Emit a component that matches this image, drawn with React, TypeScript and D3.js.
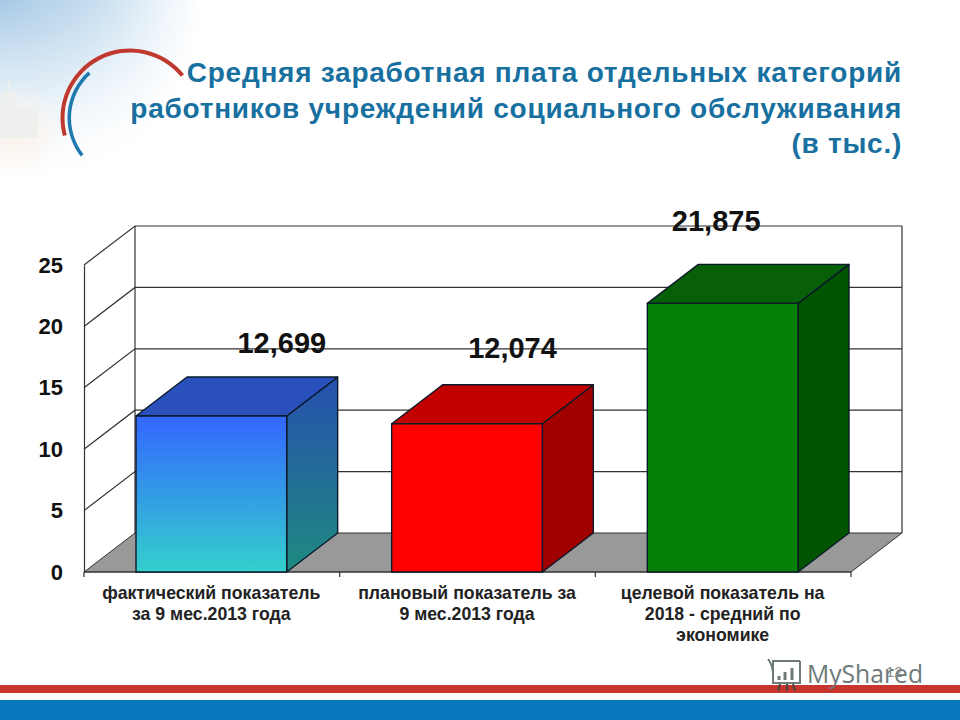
import { useEffect, useRef } from "react";
import * as d3 from "d3";

const categories = ["fact", "plan", "target"];
const values = [12.699, 12.074, 21.875];
const valueLabels = ["12,699", "12,074", "21,875"];
const ticks = [0, 5, 10, 15, 20, 25];
const categoryLines = [
  ["фактический показатель", "за 9 мес.2013 года"],
  ["плановый показатель за", "9 мес.2013 года"],
  ["целевой показатель на", "2018 - средний по", "экономике"],
];
const titleLines = [
  "Средняя заработная плата отдельных категорий",
  "работников учреждений социального обслуживания",
  "(в тыс.)",
];
const frontColors = ["url(#front0)", "#ff0000", "#068006"];
const sideColors = ["url(#side0)", "#a00000", "#005400"];
const topColors = ["#2a50bb", "#c20000", "#075f07"];

const FONT = "'Liberation Sans', Arial, sans-serif";
const dx = 51;
const dy = -39;

export default function App() {
  const svgRef = useRef<SVGSVGElement>(null);

  useEffect(() => {
    if (!svgRef.current) return;
    const svg = d3.select(svgRef.current);
    svg.selectAll("*").remove();

    const y = d3.scaleLinear().domain([0, 25]).range([572, 265]);
    const x = d3.scaleBand<string>().domain(categories).range([84, 851]).paddingInner(0).paddingOuter(0);
    const inset = 52;
    // the labels sit off-centre in the original, not in a regular pattern
    const labelShift = [70, 45, -7];
    const labelBase = [353, 358, 231];

    const defs = svg.append("defs");
    const grad = (id: string, stops: [string, string]) => {
      const g = defs.append("linearGradient").attr("id", id)
        .attr("x1", 0).attr("y1", 0).attr("x2", 0).attr("y2", 1);
      g.append("stop").attr("offset", 0).attr("stop-color", stops[0]);
      g.append("stop").attr("offset", 1).attr("stop-color", stops[1]);
    };
    grad("front0", ["#3366ff", "#33d0cc"]);
    grad("side0", ["#2650ae", "#1f8a80"]);

    const blue = defs.append("radialGradient").attr("id", "bgBlue")
      .attr("gradientUnits", "userSpaceOnUse").attr("cx", 0).attr("cy", 0).attr("r", 200);
    blue.append("stop").attr("offset", 0).attr("stop-color", "#a6c9e5");
    blue.append("stop").attr("offset", 0.5).attr("stop-color", "#c9dff0");
    blue.append("stop").attr("offset", 0.85).attr("stop-color", "#f0f6fb");
    blue.append("stop").attr("offset", 1).attr("stop-color", "#ffffff");
    const peach = defs.append("radialGradient").attr("id", "bgPeach")
      .attr("gradientUnits", "userSpaceOnUse").attr("cx", 15).attr("cy", 130).attr("r", 48);
    peach.append("stop").attr("offset", 0).attr("stop-color", "#fbf1e8");
    peach.append("stop").attr("offset", 1).attr("stop-color", "#fbf1e8").attr("stop-opacity", 0);
    const fade = defs.append("linearGradient").attr("id", "bgFade")
      .attr("x1", 0).attr("y1", 0).attr("x2", 0).attr("y2", 1);
    fade.append("stop").attr("offset", 0).attr("stop-color", "#fff").attr("stop-opacity", 0);
    fade.append("stop").attr("offset", 1).attr("stop-color", "#fff");

    // page decoration
    svg.append("rect").attr("width", 960).attr("height", 720).attr("fill", "#fff");
    svg.append("rect").attr("width", 200).attr("height", 185).attr("fill", "url(#bgBlue)");
    svg.append("rect").attr("width", 200).attr("height", 185).attr("fill", "url(#bgFade)");
    svg.append("rect").attr("width", 70).attr("height", 185).attr("fill", "url(#bgPeach)");
    const church = svg.append("g").attr("fill", "#eef0ee");
    church.append("rect").attr("x", 0).attr("y", 108).attr("width", 38).attr("height", 30);
    church.append("rect").attr("x", 2).attr("y", 96).attr("width", 14).attr("height", 14);
    church.append("path").attr("d", "M2,96 Q9,84 16,96 Z");
    church.append("rect").attr("x", 8).attr("y", 80).attr("width", 1.5).attr("height", 7);

    const arc = d3.arc<{ r0: number; r1: number; a0: number; a1: number }>()
      .innerRadius((d) => d.r0).outerRadius((d) => d.r1)
      .startAngle((d) => (d.a0 * Math.PI) / 180).endAngle((d) => (d.a1 * Math.PI) / 180);
    const arcs = svg.append("g").attr("transform", "translate(130,118)");
    arcs.append("path").attr("fill", "#c0392f").attr("d", arc({ r0: 65.5, r1: 69.5, a0: -105, a1: 51 }));
    arcs.append("path").attr("fill", "#1f78ae").attr("d", arc({ r0: 59, r1: 62.5, a0: -128, a1: -42 }));

    svg.append("g").attr("font-family", FONT).attr("font-weight", "bold").attr("font-size", 28)
      .attr("fill", "#17709f").attr("text-anchor", "end")
      .selectAll("text").data(titleLines).join("text")
      .attr("x", 902).attr("y", (_, i) => 82 + i * 35.5).attr("letter-spacing", 0.75).text((d) => d);

    // floor and walls
    const [x0, x1] = x.range();
    svg.append("path")
      .attr("d", `M${x0},${y(0)}L${x0 + dx},${y(0) + dy}L${x1 + dx},${y(0) + dy}L${x1},${y(0)}Z`)
      .attr("fill", "#999").attr("stroke", "#333");

    const grid = svg.append("g").attr("stroke", "#333").attr("stroke-width", 1.2).attr("fill", "none");
    ticks.filter((t) => t > 0).forEach((t) => {
      grid.append("path").attr("d", `M${x0},${y(t)}L${x0 + dx},${y(t) + dy}L${x1 + dx},${y(t) + dy}`);
    });
    grid.append("path").attr("d", `M${x0 + dx},${y(25) + dy}V${y(0) + dy}`);
    grid.append("path").attr("d", `M${x1 + dx},${y(25) + dy}V${y(0) + dy}`);

    // axes
    const yAxis = d3.axisLeft(y).tickValues(ticks).tickSize(0).tickPadding(21);
    const yG = svg.append("g").attr("transform", `translate(${x0},0)`).call(yAxis);
    yG.select(".domain").attr("stroke", "#333").attr("stroke-width", 1.2);
    yG.selectAll("text").attr("font-family", FONT).attr("font-weight", "bold").attr("font-size", 22).attr("fill", "#111");

    const xTicks = svg.append("g").attr("stroke", "#333").attr("stroke-width", 1.2);
    xTicks.append("line").attr("x1", x0).attr("x2", x1).attr("y1", y(0)).attr("y2", y(0));
    [...categories.map((c) => x(c)!), x1].forEach((p) => {
      xTicks.append("line").attr("x1", p).attr("x2", p).attr("y1", y(0)).attr("y2", y(0) + 5);
    });

    // bars
    const bars = svg.append("g").attr("stroke", "#0a1a2a").attr("stroke-width", 1.4).attr("stroke-linejoin", "round");
    categories.forEach((c, i) => {
      const left = x(c)! + inset;
      const right = x(c)! + x.bandwidth() - inset - 1;
      const top = y(values[i]);
      const bottom = y(0);
      bars.append("path").attr("fill", sideColors[i])
        .attr("d", `M${right},${top}L${right + dx},${top + dy}V${bottom + dy}L${right},${bottom}Z`);
      bars.append("path").attr("fill", topColors[i])
        .attr("d", `M${left},${top}L${left + dx},${top + dy}H${right + dx}L${right},${top}Z`);
      bars.append("rect").attr("fill", frontColors[i])
        .attr("x", left).attr("y", top).attr("width", right - left).attr("height", bottom - top);
    });

    // labels
    svg.append("g").attr("font-family", FONT).attr("font-weight", "bold").attr("font-size", 29)
      .attr("fill", "#111").attr("text-anchor", "middle")
      .selectAll("text").data(valueLabels).join("text")
      .attr("x", (_, i) => x(categories[i])! + x.bandwidth() / 2 + labelShift[i])
      .attr("y", (_, i) => labelBase[i]).text((d) => d);

    const catG = svg.append("g").attr("font-family", FONT).attr("font-weight", "bold").attr("font-size", 17.7)
      .attr("fill", "#222").attr("text-anchor", "middle");
    categoryLines.forEach((lines, i) => {
      lines.forEach((line, j) => {
        catG.append("text").attr("x", x(categories[i])! + x.bandwidth() / 2 - 0.5)
          .attr("y", 599 + j * 21).text(line);
      });
    });

    // footer stripes and watermark
    svg.append("rect").attr("y", 685).attr("width", 960).attr("height", 8).attr("fill", "#c8352c");
    svg.append("rect").attr("y", 700).attr("width", 960).attr("height", 20).attr("fill", "#0a78bd");
    svg.append("text").attr("x", 807).attr("y", 683).attr("font-family", "'Open Sans', sans-serif")
      .attr("font-size", 24.7).attr("fill", "#6d7a78").text("MyShared");
    svg.append("text").attr("x", 886).attr("y", 677).attr("font-family", FONT)
      .attr("font-size", 15).attr("fill", "#8a8a8a").text("12");
    const logo = svg.append("g").attr("fill", "none").attr("stroke", "#6d7a78").attr("stroke-width", 2);
    logo.append("path").attr("d", "M772,661H800M773,661V683H800V661M768,659Q772,664 773,672");
    logo.append("path").attr("d", "M779,680V676M785,680V672M792,680V668").attr("stroke-width", 3);
    logo.append("path").attr("d", "M780,684L778,691M787,684V691M793,684L795,691").attr("stroke", "#444");
  }, []);

  return (
    <svg
      ref={svgRef}
      width={960}
      height={720}
      style={{ position: "absolute", left: 0, top: 0, display: "block" }}
    />
  );
}
